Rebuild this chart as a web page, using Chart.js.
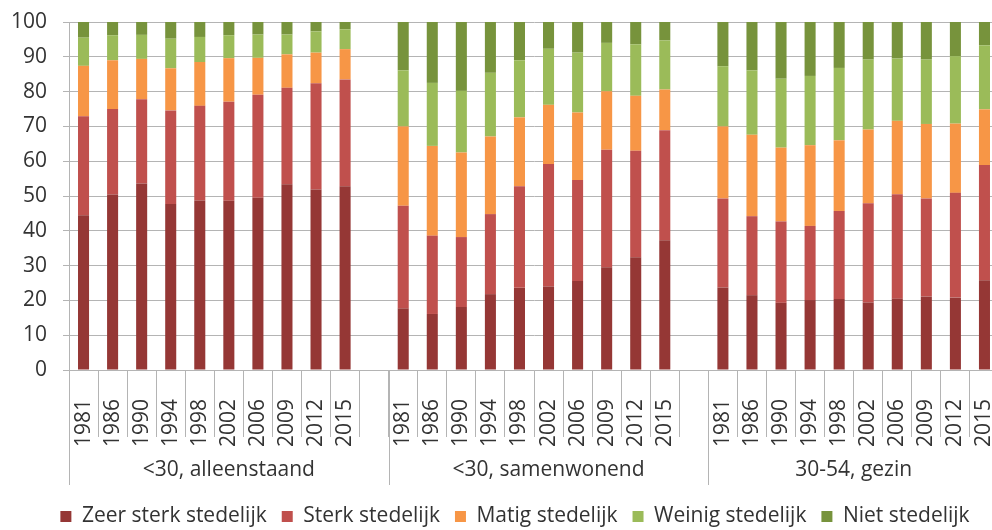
<!DOCTYPE html>
<html>
<head>
<meta charset="utf-8">
<script src="https://cdn.jsdelivr.net/npm/chart.js@4"></script>
<style>
  html, body { margin: 0; padding: 0; background: #fff; overflow: hidden; width: 992px; height: 530px; }
  canvas { display: block; }
</style>
</head>
<body>
<canvas id="grafiek" width="1030" height="537"></canvas>
<script>
// Verdeling naar stedelijkheid per huishoudtype en jaar (%)
const jaren = ['1981', '1986', '1990', '1994', '1998', '2002', '2006', '2009', '2012', '2015'];
const groepen = ['<30, alleenstaand', '<30, samenwonend', '30-54, gezin'];

const zeerSterk = [
  44.5, 50.4, 53.6, 47.7, 48.7, 48.6, 49.5, 53.4, 51.9, 52.8,
  17.7, 16.1, 18.1, 21.8, 23.6, 24.0, 25.6, 29.5, 32.4, 37.3,
  23.7, 21.5, 19.3, 20.1, 20.4, 19.4, 20.5, 21.1, 20.8, 25.8,
];
const sterk = [
  28.4, 24.6, 24.2, 26.9, 27.2, 28.5, 29.6, 27.7, 30.5, 30.7,
  29.5, 22.5, 20.1, 23.0, 29.2, 35.2, 29.0, 33.8, 30.6, 31.6,
  25.6, 22.7, 23.4, 21.3, 25.3, 28.5, 30.0, 28.2, 30.1, 33.1,
];
const matig = [
  14.5, 14.0, 11.6, 12.1, 12.6, 12.5, 10.6, 9.6, 8.8, 8.7,
  22.8, 25.8, 24.3, 22.3, 19.8, 17.0, 19.4, 16.8, 15.8, 11.7,
  20.7, 23.4, 21.2, 23.2, 20.3, 21.2, 21.1, 21.4, 19.9, 16.0,
];
const weinig = [
  8.1, 7.2, 6.9, 8.5, 7.2, 6.6, 6.7, 5.7, 6.1, 5.7,
  16.1, 18.1, 17.7, 18.3, 16.4, 16.1, 17.2, 13.9, 14.8, 14.1,
  17.3, 18.5, 19.8, 19.9, 20.8, 20.1, 17.9, 18.5, 19.4, 18.4,
];
const niet = [
  4.5, 3.8, 3.7, 4.8, 4.3, 3.8, 3.6, 3.6, 2.7, 2.1,
  13.9, 17.5, 19.8, 14.6, 11.0, 7.7, 8.8, 6.0, 6.4, 5.3,
  12.7, 13.9, 16.3, 15.5, 13.2, 10.8, 10.5, 10.8, 9.8, 6.7,
];
const yTicks = [0, 10, 20, 30, 40, 50, 60, 70, 80, 90, 100];

const FONT = "'Open Sans', 'DejaVu Sans', sans-serif";
const TEKST = '#333333';
const LIJN = '#b4b4b4';
const n = jaren.length;

// lege categorie tussen de groepen
const metGaten = (arr) =>
  groepen.flatMap((g, gi) => {
    const stuk = arr.slice(gi * n, gi * n + n);
    return gi < groepen.length - 1 ? [...stuk, null] : stuk;
  });
const labels = groepen.flatMap((g, gi) => (gi < groepen.length - 1 ? [...jaren, ''] : jaren));

const reeks = (label, data, kleur) => ({
  label,
  data: metGaten(data),
  backgroundColor: kleur,
  borderWidth: 0,
  categoryPercentage: 1,
  barPercentage: 0.38,
});

// groepslabels en lange scheidingslijnen onder de as
const groepAs = {
  id: 'groepAs',
  afterDraw(chart) {
    const x = chart.scales.x;
    const ctx = chart.ctx;
    const slot = x.getPixelForValue(1) - x.getPixelForValue(0);
    const y0 = x.top;
    ctx.save();
    ctx.strokeStyle = LIJN;
    ctx.lineWidth = 1;
    ctx.fillStyle = TEKST;
    ctx.font = `21px ${FONT}`;
    ctx.textAlign = 'center';
    ctx.textBaseline = 'middle';
    groepen.forEach((g, gi) => {
      const eerste = gi * (n + 1);
      const links = x.getPixelForValue(eerste) - slot / 2;
      let rechts = x.getPixelForValue(eerste + n - 1) + slot / 2;
      if (gi < groepen.length - 1) rechts += slot;
      const lijn = (px) => {
        const xx = Math.round(px) + 0.5;
        ctx.beginPath();
        ctx.moveTo(xx, y0);
        ctx.lineTo(xx, y0 + 115);
        ctx.stroke();
      };
      lijn(links);
      if (gi === groepen.length - 1) lijn(rechts);
      ctx.fillText(g, (links + rechts) / 2, y0 + 100);
    });
    ctx.restore();
  },
};

new Chart(document.getElementById('grafiek'), {
  type: 'bar',
  data: {
    labels,
    datasets: [
      reeks('Zeer sterk stedelijk', zeerSterk, '#953735'),
      reeks('Sterk stedelijk', sterk, '#c0504d'),
      reeks('Matig stedelijk', matig, '#f79646'),
      reeks('Weinig stedelijk', weinig, '#9bbb59'),
      reeks('Niet stedelijk', niet, '#77933c'),
    ],
  },
  options: {
    responsive: false,
    animation: false,
    devicePixelRatio: 1,
    layout: { padding: { top: 22, left: 0, right: 0, bottom: 0 } },
    plugins: {
      tooltip: { enabled: false },
      legend: {
        position: 'bottom',
        labels: {
          font: { family: FONT, size: 21 },
          color: TEKST,
          boxWidth: 11,
          boxHeight: 11,
          padding: 15,
        },
      },
    },
    scales: {
      x: {
        stacked: true,
        offset: true,
        grid: {
          offset: true,
          drawOnChartArea: false,
          drawTicks: true,
          tickLength: 67,
          color: LIJN,
        },
        border: { display: true, color: LIJN },
        ticks: {
          autoSkip: false,
          minRotation: 90,
          maxRotation: 90,
          padding: -38,
          color: TEKST,
          font: { family: FONT, size: 21 },
        },
        afterFit: (s) => {
          s.height = 121;
          s.paddingLeft = 0;
          s.paddingRight = 0;
          s.paddingTop = 0;
          s.paddingBottom = 0;
        },
      },
      y: {
        stacked: true,
        min: 0,
        max: 100,
        afterBuildTicks: (s) => { s.ticks = yTicks.map((v) => ({ value: v })); },
        grid: { color: LIJN, tickLength: 6 },
        border: { display: true, color: LIJN },
        ticks: {
          padding: 16,
          color: TEKST,
          font: { family: FONT, size: 21 },
        },
        afterFit: (s) => {
          s.width = 69;
          s.paddingTop = 0;
          s.paddingBottom = 0;
        },
      },
      // onzichtbare rechter as: houdt het plotvlak smaller dan de legenda
      rechts: {
        position: 'right',
        display: true,
        grid: { display: false },
        border: { display: false },
        ticks: { display: false },
        afterFit: (s) => {
          s.width = 31;
          s.paddingTop = 0;
          s.paddingBottom = 0;
        },
      },
    },
  },
  plugins: [groepAs],
});
</script>
</body>
</html>
